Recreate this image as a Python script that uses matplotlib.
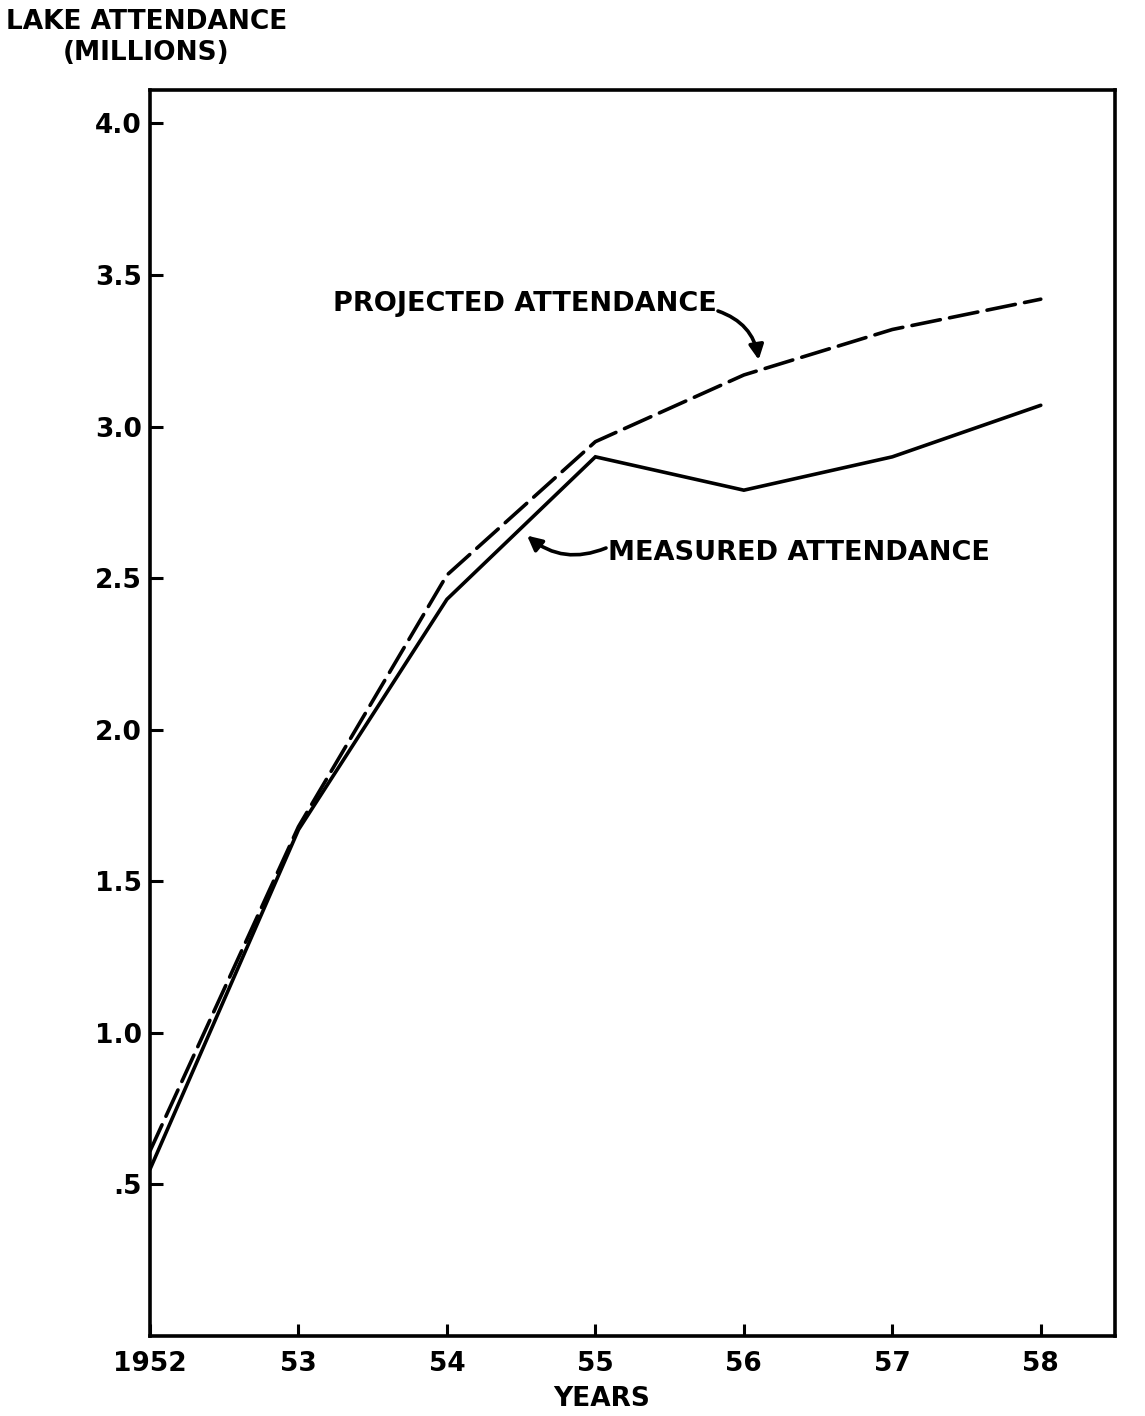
import matplotlib
matplotlib.use("Agg")
import matplotlib.pyplot as plt

# ---- data ----
years = [1952, 1953, 1954, 1955, 1956, 1957, 1958]
measured = [0.55, 1.67, 2.43, 2.90, 2.79, 2.90, 3.07]
projected = [0.61, 1.68, 2.51, 2.95, 3.17, 3.32, 3.42]
y_ticks = [0.5, 1.0, 1.5, 2.0, 2.5, 3.0, 3.5, 4.0]
y_tick_labels = [".5", "1.0", "1.5", "2.0", "2.5", "3.0", "3.5", "4.0"]
x_tick_labels = ["1952", "53", "54", "55", "56", "57", "58"]

plt.rcParams['font.family'] = ['DejaVu Sans']

W, H = 1145, 1416
fig = plt.figure(figsize=(W / 100, H / 100), dpi=100)
fig.patch.set_facecolor('white')

ax = fig.add_axes([150 / W, (H - 1336) / H, 965 / W, 1246 / H])
ax.set_xlim(1952, 1958.5)
ax.set_ylim(0, 4.11)

ax.plot(years, measured, color='black', lw=2.6, solid_capstyle='round',
        solid_joinstyle='miter')
ax.plot(years, projected, color='black', lw=2.6, dashes=(8, 2.6),
        dash_capstyle='round')

for s in ax.spines.values():
    s.set_linewidth(2.6)
    s.set_color('black')

ax.set_yticks(y_ticks)
ax.set_yticklabels(y_tick_labels, fontweight='bold')
ax.set_xticks(years)
ax.set_xticklabels(x_tick_labels, fontweight='bold')
ax.tick_params(axis='both', direction='in', length=9, width=2.2,
               labelsize=19, colors='black')
ax.tick_params(axis='y', pad=6)
ax.tick_params(axis='x', pad=11)

ttl = dict(fontsize=19, fontweight='bold')
ann = dict(fontsize=19.5, fontweight='bold')
# axis titles
fig.text(147 / W, (H - 22) / H, "LAKE ATTENDANCE", ha='center', va='center', **ttl)
fig.text(146 / W, (H - 53) / H, "(MILLIONS)", ha='center', va='center', **ttl)
fig.text(602 / W, (H - 1399) / H, "YEARS", ha='center', va='center', **ttl)

# annotations
fig.text(333 / W, (H - 304) / H, "PROJECTED ATTENDANCE", ha='left',
         va='center', **ann)
ax.annotate("", xy=(1956.1, 3.22), xycoords='data',
            xytext=(718 / W, (H - 311) / H), textcoords='figure fraction',
            arrowprops=dict(arrowstyle='-|>', color='black', lw=2.6,
                            mutation_scale=22,
                            connectionstyle='arc3,rad=-0.3',
                            shrinkA=0, shrinkB=0))

fig.text(608 / W, (H - 553) / H, "MEASURED ATTENDANCE", ha='left',
         va='center', **ann)
ax.annotate("", xy=(1954.54, 2.64), xycoords='data',
            xytext=(606 / W, (H - 548) / H), textcoords='figure fraction',
            arrowprops=dict(arrowstyle='-|>', color='black', lw=2.6,
                            mutation_scale=22,
                            connectionstyle='arc3,rad=-0.3',
                            shrinkA=0, shrinkB=0))

fig.savefig("out.png", dpi=100, facecolor='white')
